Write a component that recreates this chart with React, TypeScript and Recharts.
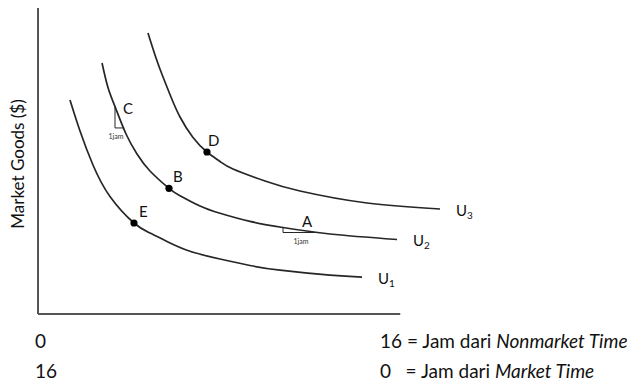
import {
  ComposedChart,
  Line,
  ReferenceLine,
  Scatter,
  XAxis,
  YAxis,
} from "recharts";

// indifference curves, x = nonmarket hours scale (0-100), y = market goods (0-100)
const u1 = [
  { x: 5.42, y: 69.93 },
  { x: 7.12, y: 59.8 },
  { x: 9.32, y: 48.69 },
  { x: 12.2, y: 38.4 },
  { x: 16.27, y: 29.74 },
  { x: 18.98, y: 26.47 },
  { x: 21.86, y: 23.69 },
  { x: 25.76, y: 20.49 },
  { x: 30.85, y: 17.97 },
  { x: 35.93, y: 15.85 },
  { x: 41.02, y: 14.31 },
  { x: 49.49, y: 12.68 },
  { x: 54.92, y: 12.06 },
];

const u2 = [
  { x: 10.85, y: 82.03 },
  { x: 11.86, y: 73.99 },
  { x: 13.05, y: 67.78 },
  { x: 14.92, y: 58.82 },
  { x: 16.78, y: 52.29 },
  { x: 18.98, y: 46.73 },
  { x: 22.2, y: 41.08 },
  { x: 24.07, y: 38.66 },
  { x: 27.46, y: 35.29 },
  { x: 30.85, y: 32.91 },
  { x: 35.93, y: 30.26 },
  { x: 41.53, y: 28.27 },
  { x: 49.49, y: 26.14 },
  { x: 60.85, y: 24.35 },
];

const u3 = [
  { x: 18.64, y: 91.83 },
  { x: 20.0, y: 83.66 },
  { x: 21.19, y: 77.45 },
  { x: 22.54, y: 70.92 },
  { x: 24.07, y: 64.38 },
  { x: 26.27, y: 57.68 },
  { x: 28.64, y: 52.94 },
  { x: 30.85, y: 49.84 },
  { x: 33.05, y: 47.39 },
  { x: 38.47, y: 43.46 },
  { x: 44.41, y: 40.2 },
  { x: 55.76, y: 36.27 },
  { x: 68.14, y: 34.31 },
];

// labelled points on the curves
const points = [
  { name: "C", x: 13.05, y: 67.78, dot: false, dx: 8, dy: 7 },
  { name: "D", x: 28.64, y: 52.94, dot: true, dx: 1, dy: -6 },
  { name: "B", x: 22.2, y: 41.08, dot: true, dx: 4, dy: -6 },
  { name: "E", x: 16.27, y: 29.74, dot: true, dx: 5, dy: -6 },
  { name: "A", x: 44.41, y: 27.6, dot: false, dx: 2, dy: -3 },
];

const curveNames = [
  { name: "U", sub: "3", x: 68.14, y: 34.31 },
  { name: "U", sub: "2", x: 60.85, y: 24.35 },
  { name: "U", sub: "1", x: 54.92, y: 12.06 },
];

// one-hour triangles at C and A
const stepC = [
  { x: 13.05, y: 67.78 },
  { x: 13.05, y: 60.8 },
  { x: 14.6, y: 60.8 },
];
const stepA = [
  { x: 41.53, y: 28.27 },
  { x: 41.53, y: 26.63 },
  { x: 47.46, y: 26.63 },
];
const stepLabels = [
  { name: "1jam", x: 13.22, y: 57.2 },
  { name: "1jam", x: 44.58, y: 22.9 },
];

const xAxisEnd = 61.4;

const INK = "#262626";
const FONT = "Lato, 'Open Sans', sans-serif";

function PointShape(props: any) {
  const { cx, cy, payload } = props;
  return (
    <g>
      {payload.dot && <circle cx={cx} cy={cy} r={3.6} fill="#000" />}
      <text
        x={cx + payload.dx}
        y={cy + payload.dy}
        fontSize={15}
        fontFamily={FONT}
        fill="#111"
      >
        {payload.name}
      </text>
    </g>
  );
}

function CurveNameShape(props: any) {
  const { cx, cy, payload } = props;
  return (
    <text x={cx + 16} y={cy + 7} fontSize={15} fontFamily={FONT} fill="#111">
      {payload.name}
      <tspan fontSize={10} dy={3}>
        {payload.sub}
      </tspan>
    </text>
  );
}

function StepLabelShape(props: any) {
  const { cx, cy, payload } = props;
  return (
    <text
      x={cx}
      y={cy}
      fontSize={7}
      textAnchor="middle"
      fontFamily={FONT}
      fill="#333"
    >
      {payload.name}
    </text>
  );
}

export default function App() {
  const textStyle = {
    position: "absolute" as const,
    fontFamily: FONT,
    fontSize: 19,
    color: "#111",
    whiteSpace: "nowrap" as const,
    lineHeight: 1,
  };
  return (
    <div
      style={{
        position: "absolute",
        left: 0,
        top: 0,
        width: 630,
        height: 381,
        background: "#fff",
        overflow: "hidden",
      }}
    >
      <ComposedChart
        width={630}
        height={381}
        margin={{ top: 8, right: 2, bottom: 67, left: 38 }}
      >
        <XAxis type="number" dataKey="x" domain={[0, 100]} hide />
        <YAxis type="number" dataKey="y" domain={[0, 100]} hide />
        <ReferenceLine
          segment={[
            { x: 0, y: 0 },
            { x: 0, y: 100 },
          ]}
          stroke="#555"
          strokeWidth={2}
          ifOverflow="visible"
        />
        <ReferenceLine
          segment={[
            { x: 0, y: 0 },
            { x: xAxisEnd, y: 0 },
          ]}
          stroke="#555"
          strokeWidth={2}
          ifOverflow="visible"
        />
        {[u1, u2, u3].map((d, i) => (
          <Line
            key={"u" + i}
            data={d}
            dataKey="y"
            type="natural"
            stroke={INK}
            strokeWidth={1.7}
            dot={false}
            isAnimationActive={false}
          />
        ))}
        {[stepC, stepA].map((d, i) => (
          <Line
            key={"s" + i}
            data={d}
            dataKey="y"
            type="linear"
            stroke={INK}
            strokeWidth={1}
            dot={false}
            isAnimationActive={false}
          />
        ))}
        <Scatter
          data={points}
          dataKey="y"
          shape={PointShape}
          isAnimationActive={false}
        />
        <Scatter
          data={curveNames}
          dataKey="y"
          shape={CurveNameShape}
          isAnimationActive={false}
        />
        <Scatter
          data={stepLabels}
          dataKey="y"
          shape={StepLabelShape}
          isAnimationActive={false}
        />
      </ComposedChart>
      <div
        style={{
          ...textStyle,
          fontSize: 17,
          left: 17,
          top: 164,
          transform: "translate(-50%, -50%) rotate(-90deg)",
        }}
      >
        Market Goods ($)
      </div>
      <div style={{ ...textStyle, left: 35, top: 331 }}>0</div>
      <div style={{ ...textStyle, left: 35, top: 361 }}>16</div>
      <div style={{ ...textStyle, left: 380, top: 331 }}>
        16 = Jam dari <i>Nonmarket Time</i>
      </div>
      <div style={{ ...textStyle, left: 380, top: 361 }}>
        0&nbsp;&nbsp; = Jam dari <i>Market Time</i>
      </div>
    </div>
  );
}
